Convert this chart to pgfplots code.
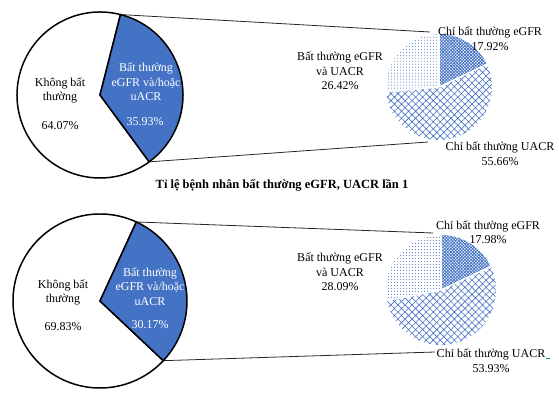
\documentclass[border=0pt]{standalone}
\usepackage{pgfplots}
\pgfplotsset{compat=1.18}
\usepackage{pgfplotstable}
\usepackage{fontspec}
\setmainfont{Liberation Serif}
\usetikzlibrary{patterns.meta}
\definecolor{xlblue}{HTML}{4472C4}
\newcommand\lbl{\fontsize{12bp}{14.5bp}\selectfont}

% percentages: main pie (normal / abnormal), secondary pie (eGFR only / UACR only / both)
\pgfplotstableread{
chart normal abnormal egfr uacr both
1 64.07 35.93 17.92 55.66 26.42
2 69.83 30.17 17.98 53.93 28.09
}\piedata

\begin{document}
\begin{tikzpicture}
\useasboundingbox (0,0) rectangle (559bp,393bp);
% read values
\pgfplotstablegetelem{0}{normal}\of\piedata \let\Anorm\pgfplotsretval
\pgfplotstablegetelem{0}{abnormal}\of\piedata \let\Aab\pgfplotsretval
\pgfplotstablegetelem{0}{egfr}\of\piedata \let\Aeg\pgfplotsretval
\pgfplotstablegetelem{0}{uacr}\of\piedata \let\Aua\pgfplotsretval
\pgfplotstablegetelem{0}{both}\of\piedata \let\Abo\pgfplotsretval
\pgfplotstablegetelem{1}{normal}\of\piedata \let\Bnorm\pgfplotsretval
\pgfplotstablegetelem{1}{abnormal}\of\piedata \let\Bab\pgfplotsretval
\pgfplotstablegetelem{1}{egfr}\of\piedata \let\Beg\pgfplotsretval
\pgfplotstablegetelem{1}{uacr}\of\piedata \let\Bua\pgfplotsretval
\pgfplotstablegetelem{1}{both}\of\piedata \let\Bbo\pgfplotsretval
% angles, chart 1
\pgfmathsetmacro\AtS{75.7}
\pgfmathsetmacro\AtE{\AtS-3.6*\Aab}
\pgfmathsetmacro\AtW{\AtS+3.6*\Anorm}
\pgfmathsetmacro\AsA{90-3.6*\Aeg}
\pgfmathsetmacro\AsB{\AsA-3.6*\Aua}
\pgfmathsetmacro\AsC{\AsB-3.6*\Abo}
% angles, chart 2
\pgfmathsetmacro\BtS{65.3}
\pgfmathsetmacro\BtE{\BtS-3.6*\Bab}
\pgfmathsetmacro\BtW{\BtS+3.6*\Bnorm}
\pgfmathsetmacro\BsA{90-3.6*\Beg}
\pgfmathsetmacro\BsB{\BsA-3.6*\Bua}
\pgfmathsetmacro\BsC{\BsB-3.6*\Bbo}
\begin{axis}[
  at={(0,0)}, anchor=south west,
  width=559bp, height=393bp, scale only axis,
  xmin=0, xmax=559, ymin=0, ymax=393,
  hide axis, clip=false]
% ---------- chart 1 ----------
% connectors
\draw[black!85, line width=0.8pt] (axis cs:100,298) ++(\AtS:83bp) -- (axis cs:430,361);
\draw[black!85, line width=0.8pt] (axis cs:100,298) ++(\AtE:83bp) -- (axis cs:428,251);
% main pie
\filldraw[fill=white, draw=black, line width=1.5pt, line join=round]
  (axis cs:100,298) -- ++(\AtS:83bp) arc[start angle=\AtS, end angle=\AtW, radius=83bp] -- cycle;
\filldraw[fill=xlblue, draw=black, line width=1.5pt, line join=round]
  (axis cs:100,298) -- ++(\AtS:83bp) arc[start angle=\AtS, end angle=\AtE, radius=83bp] -- cycle;
% secondary pie
\fill[pattern={Hatch[angle=45,distance=2.2pt,line width=0.8pt]}, pattern color=xlblue]
  (axis cs:439,306) -- ++(90:53bp) arc[start angle=90, end angle=\AsA, radius=53bp] -- cycle;
\fill[pattern={Hatch[angle=45,distance=5pt,line width=0.6pt]}, pattern color=xlblue]
  (axis cs:439,306) -- ++(\AsA:53bp) arc[start angle=\AsA, end angle=\AsB, radius=53bp] -- cycle;
\fill[pattern={Dots[distance=3pt,radius=0.5pt]}, pattern color=xlblue]
  (axis cs:439,306) -- ++(\AsB:53bp) arc[start angle=\AsB, end angle=\AsC, radius=53bp] -- cycle;
\draw[white, line width=1.5pt] (axis cs:439,306) -- ++(90:54bp);
\draw[white, line width=1.5pt] (axis cs:439,306) -- ++(\AsA:54bp);
\draw[white, line width=1.5pt] (axis cs:439,306) -- ++(\AsB:54bp);
% labels
\node[align=center, font=\lbl] at (axis cs:60,302.5) {Không bất\\thường};
\node[font=\lbl] at (axis cs:60,267) {64.07\%};
\node[align=center, font=\lbl, text=white] at (axis cs:146,311) {Bất thường\\eGFR và/hoặc\\uACR};
\node[font=\lbl, text=white] at (axis cs:145,271) {35.93\%};
\node[align=center, font=\lbl] at (axis cs:340,322) {Bất thường eGFR\\và UACR\\26.42\%};
\node[align=center, font=\lbl] at (axis cs:490,354.5) {Chỉ bất thường eGFR\\17.92\%};
\node[align=center, font=\lbl] at (axis cs:500,239.5) {Chỉ bất thường UACR\\55.66\%};
\node[font=\bfseries\fontsize{12.5bp}{15bp}\selectfont] at (axis cs:282,208) {Tỉ lệ bệnh nhân bất thường eGFR, UACR lần 1};
% ---------- chart 2 ----------
\draw[black!85, line width=0.8pt] (axis cs:100,92) ++(\BtS:87bp) -- (axis cs:433,160);
\draw[black!85, line width=0.8pt] (axis cs:100,92) ++(\BtE:87bp) -- (axis cs:435,41);
\filldraw[fill=white, draw=black, line width=1.5pt, line join=round]
  (axis cs:100,92) -- ++(\BtS:87bp) arc[start angle=\BtS, end angle=\BtW, radius=87bp] -- cycle;
\filldraw[fill=xlblue, draw=black, line width=1.5pt, line join=round]
  (axis cs:100,92) -- ++(\BtS:87bp) arc[start angle=\BtS, end angle=\BtE, radius=87bp] -- cycle;
\fill[pattern={Hatch[angle=45,distance=2.2pt,line width=0.8pt]}, pattern color=xlblue]
  (axis cs:441,103) -- ++(90:55bp) arc[start angle=90, end angle=\BsA, radius=55bp] -- cycle;
\fill[pattern={Hatch[angle=45,distance=5pt,line width=0.6pt]}, pattern color=xlblue]
  (axis cs:441,103) -- ++(\BsA:55bp) arc[start angle=\BsA, end angle=\BsB, radius=55bp] -- cycle;
\fill[pattern={Dots[distance=3pt,radius=0.5pt]}, pattern color=xlblue]
  (axis cs:441,103) -- ++(\BsB:55bp) arc[start angle=\BsB, end angle=\BsC, radius=55bp] -- cycle;
\draw[white, line width=1.5pt] (axis cs:441,103) -- ++(90:56bp);
\draw[white, line width=1.5pt] (axis cs:441,103) -- ++(\BsA:56bp);
\draw[white, line width=1.5pt] (axis cs:441,103) -- ++(\BsB:56bp);
\node[align=center, font=\lbl] at (axis cs:63,100.5) {Không bất\\thường};
\node[font=\lbl] at (axis cs:63,66) {69.83\%};
\node[align=center, font=\lbl, text=white] at (axis cs:150,106.5) {Bất thường\\eGFR và/hoặc\\uACR};
\node[font=\lbl, text=white] at (axis cs:150,68) {30.17\%};
\node[align=center, font=\lbl] at (axis cs:340,121) {Bất thường eGFR\\và UACR\\28.09\%};
\node[align=center, font=\lbl] at (axis cs:488,161) {Chỉ bất thường eGFR\\17.98\%};
\node[align=center, font=\lbl] at (axis cs:491,32.5) {Chỉ bất thường UACR\\53.93\%};
\draw[teal, line width=0.8pt] (axis cs:546,35) -- (axis cs:550,35);
\end{axis}
\end{tikzpicture}
\end{document}
